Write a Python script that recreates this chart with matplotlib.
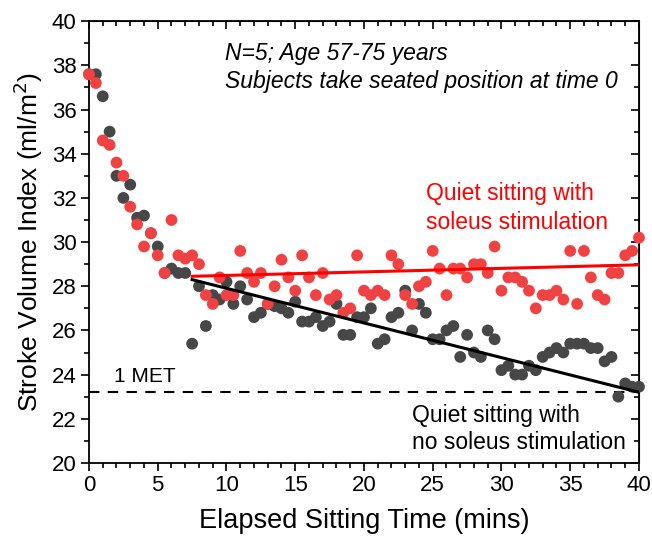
import numpy as np
import matplotlib
matplotlib.use("Agg")
import matplotlib.pyplot as plt
from matplotlib.ticker import MultipleLocator

plt.rcParams['font.family'] = ['Liberation Sans', 'DejaVu Sans']

time = np.arange(0, 40.01, 0.5)

sv_stim = [37.6, 37.2, 34.6, 34.4, 33.6, 33.0, 31.6, 30.8, 29.8, 30.4,
           29.4, 28.6, 31.0, 29.4, 29.25, 29.4, 29.0, 27.6, 27.2, 28.4,
           27.6, 27.6, 29.6, 28.6, 28.2, 28.6, 27.2, 28.0, 29.2, 28.4,
           27.8, 29.4, 28.4, 27.6, 28.6, 27.4, 27.6, 26.8, 27.0, 29.4,
           27.8, 27.6, 27.8, 27.6, 29.4, 29.0, 27.6, 27.2, 28.0, 28.2,
           29.6, 28.8, 27.6, 28.8, 28.8, 28.4, 29.0, 29.0, 28.6, 29.8,
           27.8, 28.4, 28.4, 28.2, 27.8, 27.0, 27.6, 27.6, 27.8, 27.4,
           29.6, 27.2, 29.6, 28.4, 27.6, 27.4, 28.6, 28.6, 29.4, 29.6,
           30.2]

sv_nostim = [37.6, 37.6, 36.6, 35.0, 33.0, 32.0, 32.6, 31.1, 31.2, 30.4,
             29.8, 28.6, 28.8, 28.6, 28.6, 25.4, 28.0, 26.2, 27.6, 27.4,
             28.2, 27.2, 28.0, 27.4, 26.6, 26.8, 27.2, 27.1, 27.0, 26.8,
             27.3, 26.4, 26.4, 26.6, 26.2, 26.4, 27.2, 25.8, 25.8, 26.6,
             26.6, 27.0, 25.4, 25.6, 26.6, 26.8, 27.8, 26.0, 27.2, 26.8,
             25.6, 25.6, 26.0, 26.2, 24.8, 25.8, 25.0, 24.8, 26.0, 25.6,
             24.2, 24.4, 24.0, 24.0, 24.4, 24.2, 24.8, 25.0, 25.2, 25.0,
             25.4, 25.4, 25.4, 25.2, 25.2, 24.6, 24.8, 23.0, 23.6, 23.45,
             23.45]

fit_x = [7.5, 40.0]
fit_stim = [28.45, 28.97]
fit_nostim = [28.3, 23.2]
met_level = 23.2

fig = plt.figure(figsize=(6.52, 5.44), dpi=100)
ax = fig.add_axes([0.1365, 0.149, 0.8435, 0.812])

ax.scatter(time, sv_nostim, s=72, color='#474747', edgecolors='none', zorder=3, clip_on=False)
ax.scatter(time, sv_stim, s=72, color='#f04242', edgecolors='none', zorder=4, clip_on=False)
ax.plot(fit_x, fit_stim, color='#ff0000', lw=2.2, zorder=5)
ax.plot(fit_x, fit_nostim, color='black', lw=2.2, zorder=5)
ax.axhline(met_level, color='black', lw=1.5, ls=(0, (5, 4)), zorder=2)

ax.set_xlim(0, 40)
ax.set_ylim(20, 40)
ax.xaxis.set_major_locator(MultipleLocator(5))
ax.xaxis.set_minor_locator(MultipleLocator(1))
ax.yaxis.set_major_locator(MultipleLocator(2))
ax.yaxis.set_minor_locator(MultipleLocator(1))
ax.tick_params(axis='both', which='major', direction='out', length=6, width=1.2,
               labelsize=16, pad=3)
ax.tick_params(axis='both', which='minor', direction='out', length=3.5, width=1.2)
for s in ax.spines.values():
    s.set_linewidth(1.3)

# mirrored inward ticks on top and right
secx = ax.secondary_xaxis('top')
secx.xaxis.set_major_locator(MultipleLocator(5))
secx.xaxis.set_minor_locator(MultipleLocator(1))
secx.tick_params(which='major', direction='in', length=6, width=1.2, labeltop=False)
secx.tick_params(which='minor', direction='in', length=3.5, width=1.2)
secy = ax.secondary_yaxis('right')
secy.yaxis.set_major_locator(MultipleLocator(2))
secy.yaxis.set_minor_locator(MultipleLocator(1))
secy.tick_params(which='major', direction='in', length=6, width=1.2, labelright=False)
secy.tick_params(which='minor', direction='in', length=3.5, width=1.2)

ax.set_xlabel('Elapsed Sitting Time (mins)', fontsize=19.5, labelpad=8)
ax.set_ylabel('Stroke Volume Index (ml/m$^2$)', fontsize=19, labelpad=5)

ax.text(9.9, 37.9, 'N=5; Age 57-75 years\nSubjects take seated position at time 0',
        fontsize=16.5, style='italic', ha='left', va='center', linespacing=1.25)
ax.text(24.5, 31.54, 'Quiet sitting with\nsoleus stimulation', color='#ff0000',
        fontsize=16.5, ha='left', va='center', linespacing=1.3)
ax.text(23.5, 21.54, 'Quiet sitting with\nno soleus stimulation', color='black',
        fontsize=16.5, ha='left', va='center', linespacing=1.2)
ax.text(1.8, 23.9, '1 MET', fontsize=15, ha='left', va='center')

fig.savefig('out.png', dpi=100)
